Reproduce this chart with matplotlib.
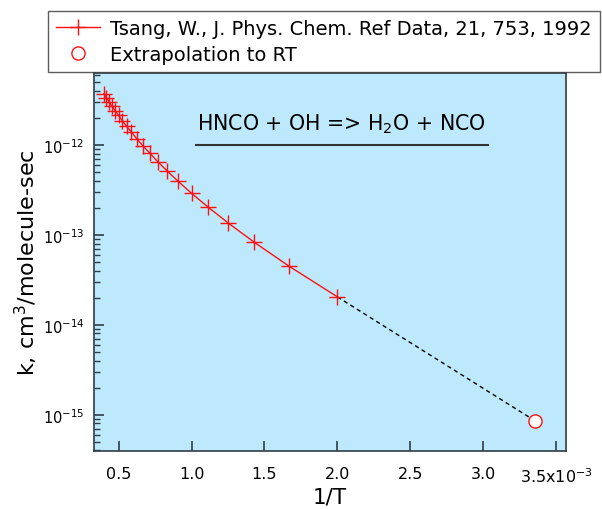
import matplotlib
matplotlib.use("Agg")
import matplotlib.pyplot as plt
from matplotlib.ticker import FixedLocator, FixedFormatter, LogLocator, NullFormatter, NullLocator

plt.rcParams['font.family'] = ['DejaVu Sans']

# Tsang (1992) evaluated rate constants for HNCO + OH, 500-2500 K
temps_K = [500, 600, 700, 800, 900, 1000, 1100, 1200, 1300, 1400, 1500,
           1600, 1700, 1800, 1900, 2000, 2100, 2200, 2300, 2400, 2500]
k_tsang = [2.04e-14, 4.5e-14, 8.3e-14, 1.36e-13, 2.05e-13, 2.9e-13, 3.93e-13,
           5.13e-13, 6.5e-13, 8.1e-13, 9.8e-13, 1.17e-12, 1.39e-12, 1.61e-12,
           1.86e-12, 2.13e-12, 2.41e-12, 2.71e-12, 3.03e-12, 3.36e-12, 3.72e-12]

# room-temperature extrapolation
T_rt = 298.0
k_rt = 8.5e-16

x_ticks = [0.5e-3, 1.0e-3, 1.5e-3, 2.0e-3, 2.5e-3, 3.0e-3, 3.5e-3]
x_ticklabels = ['0.5', '1.0', '1.5', '2.0', '2.5', '3.0', r'3.5x10$^{-3}$']
y_ticks = [1e-15, 1e-14, 1e-13, 1e-12]

inv_T = [1.0 / t for t in temps_K]
inv_T_rt = 1.0 / T_rt

fig = plt.figure(figsize=(6.02, 5.10), dpi=100)
ax = fig.add_axes([94 / 602, 1 - 452 / 510, (565.6 - 94) / 602, (452 - 74) / 510])
ax.set_facecolor('#BEE9FC')

# dashed extrapolation from the coldest evaluated point to room temperature
i_cold = inv_T.index(max(inv_T))
ax.plot([inv_T[i_cold], inv_T_rt], [k_tsang[i_cold], k_rt], color='black',
        lw=1.0, ls=(0, (3, 2.5)), zorder=2)

ax.plot(inv_T, k_tsang, color='#FF1010', lw=1.0, marker='+', ms=11, mew=1.0,
        label='Tsang, W., J. Phys. Chem. Ref Data, 21, 753, 1992', zorder=3)
ax.plot([inv_T_rt], [k_rt], ls='none', marker='o', ms=9.5, mfc='white',
        mec='#FF1010', mew=1.0, label='Extrapolation to RT', zorder=4)

ax.set_yscale('log')
ax.set_xlim(0.332e-3, 3.563e-3)
ax.set_ylim(10 ** -15.404, 10 ** -11.2)

ax.xaxis.set_major_locator(FixedLocator(x_ticks))
ax.xaxis.set_major_formatter(FixedFormatter(x_ticklabels))
ax.xaxis.set_minor_locator(NullLocator())
ax.yaxis.set_major_locator(FixedLocator(y_ticks))
ax.yaxis.set_minor_locator(LogLocator(base=10, subs=[2, 3, 4, 5, 6, 7, 8, 9]))
ax.yaxis.set_minor_formatter(NullFormatter())

ax.tick_params(axis='both', which='major', direction='in', length=7, width=1.2,
               color='#2F3D47')
ax.tick_params(axis='x', which='major', labelsize=11.5, pad=11)
ax.tick_params(axis='y', which='major', labelsize=10.5, pad=7)
ax.tick_params(axis='y', which='minor', direction='in', length=4, width=1.0,
               color='#2F3D47')
ax.tick_params(top=False, right=False)
for s in ax.spines.values():
    s.set_color('#2F3D47')
    s.set_linewidth(1.2)

ax.set_xlabel('1/T', fontsize=15.5, labelpad=1)
ax.set_ylabel(r'k, cm$^3$/molecule-sec', fontsize=16, labelpad=2)

# reaction caption with underline
ax.text(0.525, 0.868, r'HNCO + OH => H$_2$O + NCO', transform=ax.transAxes,
        ha='center', va='center', fontsize=14.8)
ax.plot([0.216, 0.835], [0.810, 0.810], transform=ax.transAxes,
        color='#333333', lw=1.5, zorder=5)

leg = fig.legend(loc='upper left', bbox_to_anchor=(48 / 602, 1 - 12 / 510),
                 bbox_transform=fig.transFigure, fontsize=14.0, frameon=True,
                 fancybox=False, edgecolor='#333333', handlelength=2.25,
                 handletextpad=0.55, borderpad=0.4, labelspacing=0.38,
                 borderaxespad=0.0)
leg.get_frame().set_linewidth(1.0)

fig.savefig('out.png', dpi=100)
